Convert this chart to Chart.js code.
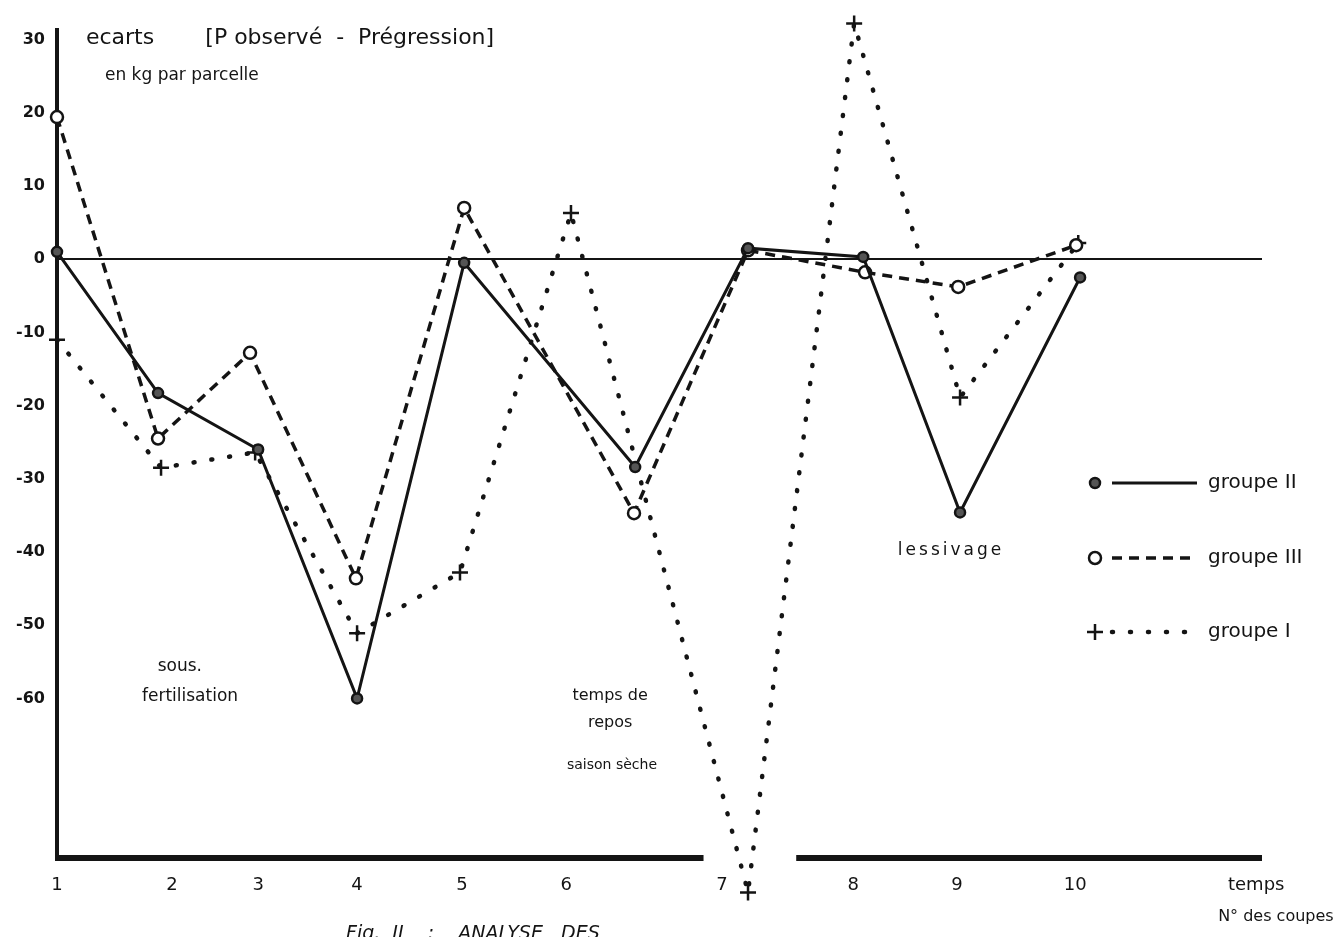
<!DOCTYPE html>
<html lang="fr">
<head>
<meta charset="utf-8">
<title>Ecarts P observé - P régression</title>
<script src="https://cdn.jsdelivr.net/npm/chart.js@4.4.1/dist/chart.umd.min.js"></script>
<style>
  html, body { margin: 0; padding: 0; background: #fff; }
  #wrap { width: 1338px; height: 937px; }
</style>
</head>
<body>
<div id="wrap"><canvas id="graph" width="1338" height="937"></canvas></div>
<script>
// n° des coupes et leur place sur l'axe du temps (en semaines)
const coupes = ['1', '2', '3', '4', '5', '6', '7', '8', '9', '10'];
const tCoupes = [0, 4.96, 8.68, 12.95, 17.48, 21.97, 28.7, 34.36, 38.84, 43.94];
const yTicks = [30, 20, 10, 0, -10, -20, -30, -40, -50, -60];

// groupe II - trait plein
const tG2 = [0, 4.36, 8.68, 12.95, 17.57, 24.95, 29.82, 34.79, 38.97, 44.15];
const g2 = [1, -18.3, -26, -60, -0.5, -28.4, 1.5, 0.3, -34.6, -2.5];
// groupe III - tirets
const tG3 = [0, 4.36, 8.33, 12.9, 17.57, 24.9, 29.82, 34.87, 38.89, 43.98];
const g3 = [19.4, -24.5, -12.8, -43.6, 7, -34.7, 1.2, -1.8, -3.8, 1.9];
// groupe I - pointillés
const tG1 = [0, 4.49, 8.55, 12.95, 17.39, 22.18, 29.82, 34.4, 38.97, 44.07];
const g1 = [-11, -28.5, -26.4, -51.1, -42.8, 6.3, -86.5, 32.2, -18.9, 2.2];

const INK = '#141414';
const FONT = '"DejaVu Sans", sans-serif';

function pts(t, v) { return t.map((x, i) => ({ x: x, y: v[i] })); }

// textes posés sur le graphique (t, valeur)
const notes = [
  { txt: 'ecarts', t: 1.25, v: 30.2, size: 22, align: 'left' },
  { txt: '[P observé  -  Prégression]', t: 6.4, v: 30.2, size: 22, align: 'left' },
  { txt: 'en kg par parcelle', t: 2.07, v: 25.1, size: 17, align: 'left' },
  { txt: 'sous.', t: 5.3, v: -55.7, size: 17, align: 'center' },
  { txt: 'fertilisation', t: 5.74, v: -59.8, size: 17, align: 'center' },
  { txt: 'temps de', t: 23.87, v: -59.6, size: 16, align: 'center' },
  { txt: 'repos', t: 23.87, v: -63.3, size: 16, align: 'center' },
  { txt: 'saison sèche', t: 23.95, v: -69.1, size: 14, align: 'center' },
  { txt: 'lessivage', t: 38.58, v: -39.8, size: 17, align: 'center', spacing: '3px' },
  { txt: 'temps', t: 51.75, v: -85.5, size: 18, align: 'center' },
  { txt: 'N° des coupes', t: 52.6, v: -89.9, size: 16, align: 'center' },
  { txt: 'Fig.  II    :    ANALYSE   DES', t: 12.47, v: -92.2, size: 19, align: 'left', italic: true }
];

const styles = [
  { label: 'groupe II', dash: [], width: 3, cap: 'butt', point: 'circle', r: 5, fill: '#555' },
  { label: 'groupe III', dash: [10, 7], width: 3.5, cap: 'butt', point: 'circle', r: 6, fill: '#fff' },
  { label: 'groupe I', dash: [1, 17], width: 4.5, cap: 'round', point: 'cross', r: 8, fill: '#fff' }
];

const decor = {
  id: 'decor',
  beforeDatasetsDraw(chart) {
    const ctx = chart.ctx, a = chart.chartArea, sx = chart.scales.x;
    // axe des temps interrompu vers la coupe 7
    ctx.save();
    ctx.strokeStyle = INK;
    ctx.lineWidth = 6;
    ctx.beginPath();
    ctx.moveTo(a.left - 2, a.bottom);
    ctx.lineTo(sx.getPixelForValue(27.9), a.bottom);
    ctx.moveTo(sx.getPixelForValue(31.9), a.bottom);
    ctx.lineTo(a.right, a.bottom);
    ctx.stroke();
    ctx.restore();
  },
  afterDatasetsDraw(chart) {
    // Chart.js ne dessine pas les points hors de la zone : on les ajoute
    const ctx = chart.ctx, a = chart.chartArea;
    chart.data.datasets.forEach((d, i) => {
      chart.getDatasetMeta(i).data.forEach(p => {
        if (p.y > a.bottom + 10 || p.y < a.top - 10) {
          ctx.save();
          ctx.strokeStyle = INK;
          ctx.fillStyle = d.pointBackgroundColor;
          ctx.lineWidth = d.pointBorderWidth;
          Chart.helpers.drawPoint(ctx, {
            pointStyle: d.pointStyle, radius: d.pointRadius,
            borderWidth: d.pointBorderWidth, rotation: 0
          }, p.x, p.y);
          ctx.restore();
        }
      });
    });
  },
  afterDraw(chart) {
    const ctx = chart.ctx, sx = chart.scales.x, sy = chart.scales.y;
    ctx.save();
    ctx.fillStyle = INK;
    ctx.textBaseline = 'middle';
    notes.forEach(n => {
      ctx.font = (n.italic ? 'italic ' : '') + n.size + 'px ' + FONT;
      ctx.textAlign = n.align;
      ctx.letterSpacing = n.spacing || '0px';
      ctx.fillText(n.txt, sx.getPixelForValue(n.t), sy.getPixelForValue(n.v));
    });
    ctx.letterSpacing = '0px';

    // légende à droite
    const rows = [483, 558, 632];
    styles.forEach((s, i) => {
      const y = rows[i];
      ctx.strokeStyle = INK;
      ctx.lineWidth = s.width;
      ctx.lineCap = s.cap;
      ctx.setLineDash(s.dash);
      ctx.beginPath();
      ctx.moveTo(1112, y);
      ctx.lineTo(1197, y);
      ctx.stroke();
      ctx.setLineDash([]);
      ctx.lineCap = 'butt';
      ctx.lineWidth = 2.5;
      ctx.fillStyle = s.fill;
      Chart.helpers.drawPoint(ctx, {
        pointStyle: s.point, radius: s.r, borderWidth: 2.5, rotation: 0
      }, 1095, y);
      ctx.fillStyle = INK;
      ctx.font = '20px ' + FONT;
      ctx.textAlign = 'left';
      ctx.fillText(s.label, 1208, y);
    });
    ctx.restore();
  }
};

function ds(i, t, v) {
  const s = styles[i];
  return {
    label: s.label,
    data: pts(t, v),
    borderColor: INK,
    borderWidth: s.width,
    borderDash: s.dash,
    borderCapStyle: s.cap,
    pointStyle: s.point,
    pointRadius: s.r,
    pointBackgroundColor: s.fill,
    pointBorderColor: INK,
    pointBorderWidth: 2.5,
    tension: 0,
    clip: false
  };
}

new Chart(document.getElementById('graph'), {
  type: 'line',
  data: {
    datasets: [ds(0, tG2, g2), ds(1, tG3, g3), ds(2, tG1, g1)]
  },
  options: {
    responsive: false,
    animation: false,
    layout: { padding: { top: 30, right: 76, left: 0, bottom: 0 } },
    plugins: { legend: { display: false }, tooltip: { enabled: false } },
    scales: {
      x: {
        type: 'linear', min: 0, max: 52,
        grid: { display: false },
        border: { display: false },
        afterBuildTicks: s => { s.ticks = tCoupes.map(v => ({ value: v })); },
        afterFit: s => { s.height = 79; },
        ticks: {
          autoSkip: false, maxRotation: 0, padding: 9, color: INK,
          font: { family: FONT, size: 18 },
          callback: (v, i) => coupes[i]
        }
      },
      y: {
        min: -81.8, max: 31.3,
        afterBuildTicks: s => { s.ticks = yTicks.map(v => ({ value: v })); },
        afterFit: s => { s.width = 57; },
        grid: {
          drawTicks: false, lineWidth: 2,
          color: c => (c.tick && c.tick.value === 0) ? INK : 'rgba(0,0,0,0)'
        },
        border: { display: true, color: INK, width: 4 },
        ticks: {
          padding: 12, color: INK,
          font: { family: FONT, size: 16, weight: 'bold' }
        }
      }
    }
  },
  plugins: [decor]
});
</script>
</body>
</html>
